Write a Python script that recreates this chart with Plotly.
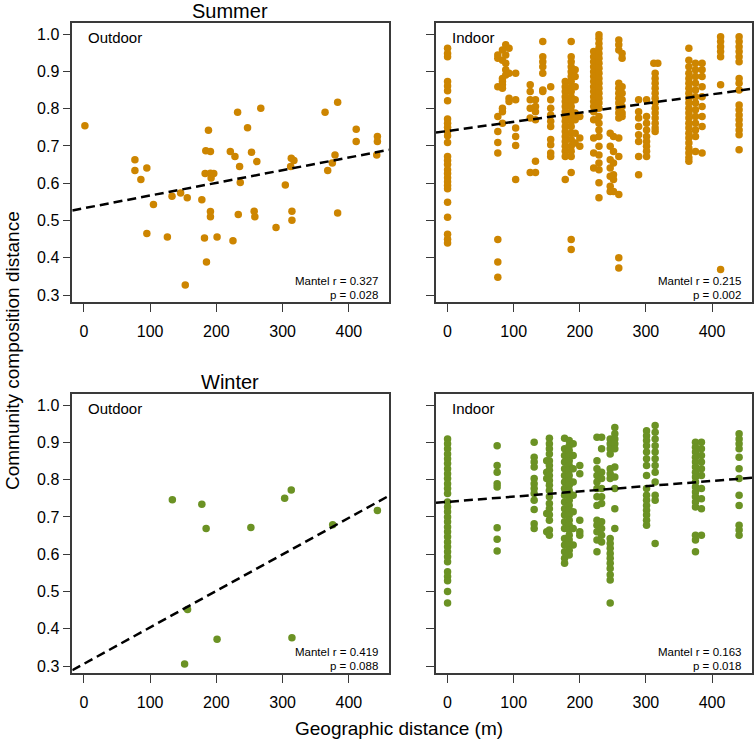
import plotly.graph_objects as go

# ---------------- data ----------------
summer_out_x = [1.5, 77, 77, 86, 95, 95, 105, 126, 133, 146, 153, 156, 178, 182, 185, 183, 184, 188, 191, 191,
                192, 196, 191, 191, 201, 221, 225, 228, 232, 233, 235, 236, 247, 253, 257, 258, 261, 267, 290, 304,
                313, 312, 317, 314, 314, 364, 368, 375, 379, 383, 383, 411, 411, 443, 443, 442]
summer_out_y = [0.754, 0.663, 0.634, 0.610, 0.641, 0.465, 0.543, 0.456, 0.565, 0.574, 0.327, 0.561, 0.556, 0.453,
                0.389, 0.626, 0.687, 0.742, 0.685, 0.627, 0.614, 0.626, 0.524, 0.510, 0.456, 0.685, 0.446, 0.672,
                0.790, 0.516, 0.645, 0.602, 0.749, 0.683, 0.525, 0.510, 0.658, 0.801, 0.481, 0.595, 0.667, 0.645,
                0.661, 0.525, 0.501, 0.790, 0.634, 0.654, 0.676, 0.817, 0.520, 0.745, 0.712, 0.725, 0.712, 0.676]

# indoor summer: columns of (x, [y values])
summer_in_cols = [
    (0, [0.962, 0.948, 0.939, 0.873, 0.861, 0.848, 0.821, 0.772, 0.761, 0.750, 0.739, 0.727, 0.709, 0.672, 0.661,
         0.650, 0.636, 0.626, 0.615, 0.604, 0.594, 0.585, 0.549, 0.509, 0.463, 0.450, 0.440]),
    (76, [0.944, 0.935, 0.859, 0.779, 0.739, 0.709, 0.681, 0.449, 0.389, 0.348]),
    (83, [0.957, 0.930, 0.881, 0.873, 0.864, 0.855, 0.801, 0.792, 0.761]),
    (88, [0.971, 0.944, 0.922, 0.904, 0.890]),
    (93, [0.962, 0.895, 0.828, 0.819]),
    (103, [0.895, 0.824, 0.748, 0.725, 0.701, 0.610]),
    (125, [0.864, 0.846, 0.824, 0.801, 0.775, 0.629]),
    (133, [0.824, 0.806, 0.792, 0.770, 0.659, 0.629]),
    (144, [0.980, 0.939, 0.926, 0.912, 0.895, 0.850, 0.846]),
    (156, [0.859, 0.824, 0.801, 0.783, 0.766, 0.752, 0.717, 0.703, 0.681, 0.672]),
    (178, [0.873, 0.859, 0.846, 0.832, 0.819, 0.806, 0.792, 0.779, 0.766, 0.752, 0.739, 0.725, 0.712, 0.699,
           0.686, 0.672, 0.610]),
    (187, [0.980, 0.939, 0.926, 0.912, 0.899, 0.886, 0.873, 0.859, 0.846, 0.832, 0.819, 0.806, 0.792, 0.779,
           0.766, 0.752, 0.734, 0.717, 0.699, 0.686, 0.672, 0.629, 0.449, 0.422]),
    (193, [0.904, 0.886, 0.859, 0.824, 0.788, 0.770, 0.734, 0.708]),
    (200, [0.779, 0.721, 0.699]),
    (221, [0.953, 0.939, 0.926, 0.912, 0.899, 0.886, 0.873, 0.859, 0.846, 0.832, 0.819, 0.806, 0.792, 0.770,
           0.721, 0.681, 0.641]),
    (229, [0.998, 0.988, 0.975, 0.962, 0.948, 0.935, 0.922, 0.908, 0.895, 0.881, 0.868, 0.855, 0.841, 0.828,
           0.815, 0.801, 0.779, 0.761, 0.743, 0.725, 0.699, 0.676, 0.654, 0.636, 0.601, 0.561]),
    (246, [0.734, 0.699, 0.663, 0.641, 0.619, 0.592, 0.578]),
    (251, [0.725, 0.685, 0.654, 0.623, 0.610, 0.578]),
    (259, [0.984, 0.971, 0.957, 0.868, 0.855, 0.841, 0.828, 0.815, 0.801, 0.788, 0.775, 0.721, 0.672, 0.570,
           0.400, 0.373]),
    (264, [0.948, 0.935, 0.859, 0.841, 0.824, 0.806, 0.788, 0.779]),
    (289, [0.824, 0.792, 0.775, 0.752, 0.730, 0.712, 0.672, 0.623]),
    (301, [0.824, 0.779, 0.761, 0.743, 0.725, 0.712, 0.699, 0.686, 0.672]),
    (312, [0.922]),
    (314, [0.895, 0.881, 0.868, 0.855, 0.841, 0.828, 0.815, 0.801, 0.788, 0.775, 0.761, 0.748, 0.739]),
    (318, [0.922]),
    (365, [0.962, 0.930, 0.912, 0.895, 0.881, 0.868, 0.855, 0.841, 0.828, 0.815, 0.801, 0.788, 0.775, 0.761,
           0.748, 0.734, 0.721, 0.708, 0.694, 0.681, 0.668, 0.659]),
    (375, [0.922, 0.904, 0.886, 0.868, 0.850, 0.832, 0.815, 0.797, 0.779, 0.761, 0.743, 0.725, 0.685]),
    (385, [0.922, 0.904, 0.886, 0.859, 0.832, 0.806, 0.779, 0.752, 0.681]),
    (413, [0.993, 0.980, 0.966, 0.953, 0.939, 0.864, 0.369]),
    (441, [0.993, 0.980, 0.966, 0.953, 0.939, 0.926, 0.881, 0.868, 0.850, 0.810, 0.797, 0.783, 0.770, 0.757,
           0.743, 0.730, 0.690]),
]

winter_out_x = [133.5, 178, 184.5, 252, 303, 313, 375.5, 443, 156.5, 201, 314, 152]
winter_out_y = [0.746, 0.734, 0.669, 0.672, 0.750, 0.772, 0.679, 0.717, 0.452, 0.372, 0.376, 0.306]

winter_in_cols = [
    (0, [0.909, 0.896, 0.883, 0.869, 0.856, 0.843, 0.829, 0.816, 0.803, 0.789, 0.776, 0.763, 0.740, 0.727, 0.714,
         0.700, 0.687, 0.673, 0.660, 0.647, 0.633, 0.620, 0.607, 0.593, 0.580, 0.553, 0.540, 0.529, 0.500, 0.469]),
    (75, [0.891, 0.838, 0.820, 0.789, 0.780, 0.671, 0.640, 0.609]),
    (131, [0.900, 0.860, 0.847, 0.834, 0.803, 0.789, 0.776, 0.763, 0.745, 0.720, 0.682, 0.669]),
    (150, [0.851, 0.820, 0.803, 0.709, 0.660]),
    (154, [0.911, 0.896, 0.883, 0.869, 0.851, 0.838, 0.825, 0.811, 0.798, 0.785, 0.771, 0.754, 0.736, 0.722,
           0.706, 0.691, 0.665, 0.651]),
    (177, [0.911, 0.883, 0.865, 0.847, 0.829, 0.811, 0.794, 0.776, 0.758, 0.740, 0.722, 0.705, 0.687, 0.669,
           0.642, 0.625, 0.607, 0.589, 0.576]),
    (184, [0.905, 0.891, 0.878, 0.865, 0.851, 0.838, 0.825, 0.811, 0.798, 0.785, 0.771, 0.758, 0.745, 0.731,
           0.718, 0.705, 0.691, 0.678, 0.665, 0.651, 0.638, 0.625, 0.611, 0.598]),
    (190, [0.896, 0.865, 0.829, 0.794, 0.758, 0.714, 0.669, 0.625]),
    (200, [0.838, 0.816, 0.691, 0.660, 0.651]),
    (226, [0.914, 0.851, 0.829, 0.811, 0.794, 0.776, 0.754, 0.731, 0.691, 0.678, 0.660, 0.638, 0.607]),
    (233, [0.914, 0.883, 0.820, 0.803, 0.776, 0.754, 0.736, 0.687, 0.669, 0.651, 0.633]),
    (246, [0.909, 0.896, 0.883, 0.869, 0.829, 0.816, 0.803, 0.642, 0.629, 0.616, 0.602, 0.589, 0.576, 0.562,
           0.545, 0.531, 0.469]),
    (253, [0.940, 0.923, 0.909, 0.896, 0.883, 0.834, 0.807, 0.776, 0.722, 0.669]),
    (301, [0.931, 0.918, 0.905, 0.891, 0.874, 0.856, 0.838, 0.811, 0.776, 0.758, 0.745, 0.731, 0.718, 0.705,
           0.691, 0.678]),
    (314, [0.945, 0.927, 0.909, 0.891, 0.874, 0.856, 0.838, 0.820, 0.794, 0.758, 0.745, 0.629]),
    (375, [0.900, 0.887, 0.874, 0.860, 0.847, 0.834, 0.820, 0.807, 0.794, 0.780, 0.767, 0.754, 0.740, 0.727,
           0.651, 0.638, 0.607]),
    (384, [0.900, 0.883, 0.865, 0.847, 0.829, 0.811, 0.776, 0.749, 0.722, 0.651]),
    (441, [0.923, 0.909, 0.896, 0.883, 0.860, 0.829, 0.803, 0.758, 0.731, 0.678, 0.665, 0.651]),
]

# regression fits: intercept, slope
fit_intercepts = [0.533, 0.740, 0.306, 0.7405]
fit_slopes = [0.00034, 0.000246, 0.000979, 0.00014]
mantel_r = ["0.327", "0.215", "0.419", "0.163"]
mantel_p = ["0.028", "0.002", "0.088", "0.018"]
panel_labels = ["Outdoor", "Indoor", "Outdoor", "Indoor"]
season_titles = ["Summer", "Winter"]
x_ticks = [0, 100, 200, 300, 400]
y_ticks = [0.3, 0.4, 0.5, 0.6, 0.7, 0.8, 0.9, 1.0]

# ---------------- helpers ----------------
def flatten(cols):
    xs, ys = [], []
    for x, vals in cols:
        for v in vals:
            xs.append(x)
            ys.append(v)
    return xs, ys

summer_in_x, summer_in_y = flatten(summer_in_cols)
winter_in_x, winter_in_y = flatten(winter_in_cols)

W, H = 755, 750
XR = [-17.5, 460.5]
YR = [0.281, 1.029]
ORANGE = "#CD8500"
GREEN = "#6B9224"
FONT = "Liberation Sans, Arial, Helvetica, sans-serif"
AXC = "#3a3a3a"


def px(xs):
    return xs / W


def py(ys):
    return 1 - ys / H


# pixel boxes (left, right, top, bottom)
boxes = [(72.3, 389, 23.3, 303), (436, 752, 23.3, 303),
         (72.3, 389, 395.3, 675), (436, 752, 395.3, 675)]

fig = go.Figure()
series = [(summer_out_x, summer_out_y, ORANGE), (summer_in_x, summer_in_y, ORANGE),
          (winter_out_x, winter_out_y, GREEN), (winter_in_x, winter_in_y, GREEN)]

for i, (xs, ys, col) in enumerate(series):
    ax = "" if i == 0 else str(i + 1)
    fig.add_trace(go.Scatter(x=xs, y=ys, mode="markers", xaxis="x" + ax, yaxis="y" + ax,
                             marker=dict(size=7.5, color=col, line=dict(width=0)),
                             showlegend=False, cliponaxis=True, hoverinfo="skip"))
    fx = [XR[0], XR[1]]
    fy = [fit_intercepts[i] + fit_slopes[i] * v for v in fx]
    fig.add_trace(go.Scatter(x=fx, y=fy, mode="lines", xaxis="x" + ax, yaxis="y" + ax,
                             line=dict(color="black", width=2.5, dash="9px,5px"),
                             showlegend=False, cliponaxis=True, hoverinfo="skip"))

layout = dict(width=W, height=H, autosize=False, margin=dict(l=0, r=0, t=0, b=0),
              paper_bgcolor="white", plot_bgcolor="white", font=dict(family=FONT, color="black"))

for i, (l, r, t, b) in enumerate(boxes):
    ax = "" if i == 0 else str(i + 1)
    left_col = i in (0, 2)
    layout["xaxis" + ax] = dict(domain=[px(l), px(r)], range=XR, anchor="y" + ax,
                                tickvals=x_ticks, ticks="outside", ticklen=8, tickwidth=1.3, tickcolor=AXC,
                                showline=True, mirror=True, linecolor=AXC, linewidth=1.5,
                                showgrid=False, zeroline=False, tickfont=dict(size=16, family=FONT),
                                ticklabelstandoff=6)
    layout["yaxis" + ax] = dict(domain=[py(b), py(t)], range=YR, anchor="x" + ax,
                                tickvals=y_ticks, tickformat=".1f", ticks="outside", ticklen=8, tickwidth=1.3,
                                tickcolor=AXC, showline=True, mirror=True, linecolor=AXC, linewidth=1.5,
                                showgrid=False, zeroline=False, showticklabels=left_col,
                                tickfont=dict(size=16, family=FONT))

fig.update_layout(**layout)

ann = []
for i, (l, r, t, b) in enumerate(boxes):
    ann.append(dict(text=panel_labels[i], xref="paper", yref="paper", x=px(l + 14), y=py(t + 14),
                    xanchor="left", yanchor="middle", showarrow=False, font=dict(size=15, family=FONT)))
    ann.append(dict(text="Mantel r = " + mantel_r[i], xref="paper", yref="paper",
                    x=px(r - 9), y=py(b - 21.5), xanchor="right", yanchor="middle",
                    showarrow=False, font=dict(size=11.5, family=FONT)))
    ann.append(dict(text="p = " + mantel_p[i], xref="paper", yref="paper",
                    x=px(r - 9), y=py(b - 7.5), xanchor="right", yanchor="middle",
                    showarrow=False, font=dict(size=11.5, family=FONT)))

ann.append(dict(text=season_titles[0], xref="paper", yref="paper", x=px(230), y=py(11.5),
                xanchor="center", yanchor="middle", showarrow=False, font=dict(size=20, family=FONT)))
ann.append(dict(text=season_titles[1], xref="paper", yref="paper", x=px(230), y=py(383),
                xanchor="center", yanchor="middle", showarrow=False, font=dict(size=20, family=FONT)))
ann.append(dict(text="Geographic distance (m)", xref="paper", yref="paper", x=px(399), y=py(730),
                xanchor="center", yanchor="middle", showarrow=False, font=dict(size=19, family=FONT)))
ann.append(dict(text="Community composition distance", xref="paper", yref="paper", x=px(12), y=py(352),
                xanchor="center", yanchor="middle", showarrow=False, textangle=-90,
                font=dict(size=19, family=FONT)))
fig.update_layout(annotations=ann)

fig.write_html("out.html", config={"displayModeBar": False},
               post_script="document.body.style.margin='0';document.body.style.padding='0';")
